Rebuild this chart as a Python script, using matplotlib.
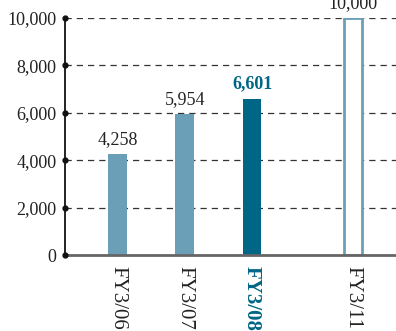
import matplotlib
matplotlib.use("Agg")
import matplotlib.pyplot as plt

categories = ["FY3/06", "FY3/07", "FY3/08", "FY3/11"]
values = [4258, 5954, 6601, 10000]
positions = [0, 1, 2, 3.5]
yticks = [0, 2000, 4000, 6000, 8000, 10000]

light = "#6b9fb8"
dark = "#006685"

plt.rcParams["font.family"] = ["Liberation Serif", "DejaVu Serif"]

fig = plt.figure(figsize=(3.96, 3.31), dpi=100)
ax = fig.add_axes([65 / 396, 1 - 255 / 331, 1 - 65 / 396, (255 - 18) / 331])
ax.set_xlim(-0.78, 4.14)
ax.set_ylim(0, 10000)

# dashed grid lines
for t in yticks[1:]:
    ax.axhline(t, color="#333333", lw=0.9, ls=(0, (5, 4)), zorder=0)

w = 0.28
styles = ["solid", "solid", "dark", "open"]
for p, v, s in zip(positions, values, styles):
    if s == "open":
        ax.bar(p, v, width=w, facecolor="white", edgecolor=light, lw=2, zorder=2)
    else:
        ax.bar(p, v, width=w, color=dark if s == "dark" else light, zorder=2)

for p, v, s in zip(positions, values, styles):
    kw = dict(color=dark, fontweight="bold") if s == "dark" else dict(color="#222222")
    ax.text(p, v + 250, f"{v:,}", ha="center", va="bottom", fontsize=13, **kw)

for sp in ["top", "right"]:
    ax.spines[sp].set_visible(False)
ax.spines["left"].set_color("#111111")
ax.spines["left"].set_linewidth(1.3)
ax.spines["bottom"].set_color("#666666")
ax.spines["bottom"].set_linewidth(2)

ax.set_yticks(yticks)
ax.set_yticklabels([f"{t:,}" for t in yticks], fontsize=13, color="#222222")
ax.tick_params(axis="y", length=0, pad=6)
ax.plot([-0.78] * len(yticks), yticks, "o", color="#111111", ms=3.5,
        clip_on=False, zorder=5)

ax.set_xticks(positions)
ax.set_xticklabels(categories, rotation=-90, fontsize=15, va="top")
ax.tick_params(axis="x", length=0, pad=8)
for lbl, s in zip(ax.get_xticklabels(), styles):
    if s == "dark":
        lbl.set_color(dark)
        lbl.set_fontweight("bold")
    else:
        lbl.set_color("#222222")

fig.savefig("out.png", dpi=100)
